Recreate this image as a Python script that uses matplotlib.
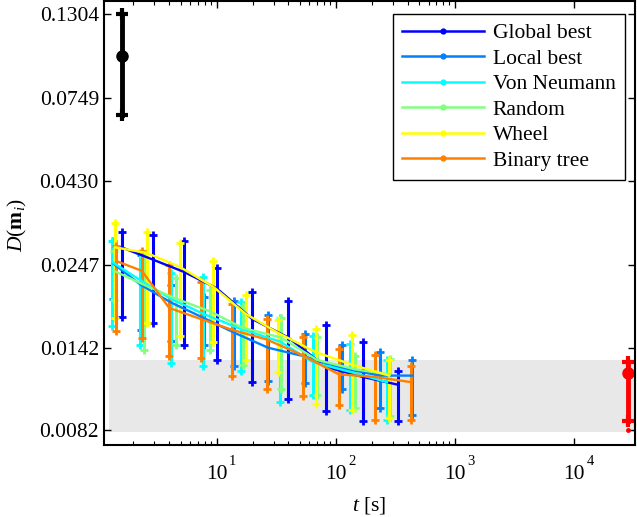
import numpy as np
import matplotlib
matplotlib.use('Agg')
import matplotlib.pyplot as plt
from matplotlib.ticker import FixedLocator, NullFormatter
from matplotlib.lines import Line2D

plt.rcParams['font.family'] = ['Liberation Serif', 'DejaVu Serif']
plt.rcParams['mathtext.fontset'] = 'custom'
plt.rcParams['mathtext.rm'] = 'Liberation Serif'
plt.rcParams['mathtext.it'] = 'Liberation Serif:italic'
plt.rcParams['mathtext.bf'] = 'Liberation Serif:bold'

# Datos
nombres = ['Global best', 'Local best', 'Von Neumann', 'Random', 'Wheel', 'Binary tree']
colores = ['#0000ff', '#0080ff', '#00ffff', '#80ff80', '#ffff00', '#ff8000']

t_global = [1.59, 2.94, 5.35, 10.0, 19.9, 39.9, 82.3, 168, 335]
m_global = [0.0277, 0.0255, 0.0235, 0.0211, 0.0172, 0.0152, 0.0125, 0.0117, 0.0111]
hi_global = [0.0306, 0.0301, 0.0288, 0.0242, 0.0206, 0.0194, 0.0165, 0.0148, 0.0122]
lo_global = [0.0174, 0.0168, 0.0145, 0.0131, 0.0113, 0.0101, 0.0093, 0.0087, 0.0087]

t_local = [1.35, 2.30, 4.13, 7.82, 14.05, 27.1, 55.1, 113, 235, 439]
m_local = [0.0249, 0.0216, 0.0192, 0.0173, 0.0157, 0.0142, 0.0134, 0.0124, 0.0118, 0.0118]
hi_local = [0.0288, 0.0263, 0.0216, 0.0199, 0.0194, 0.0177, 0.0156, 0.0145, 0.0138, 0.0131]
lo_local = [0.0196, 0.0160, 0.0149, 0.0145, 0.0126, 0.0114, 0.0112, 0.0108, 0.0095, 0.0091]

t_vn = [1.33, 2.27, 4.11, 7.72, 15.9, 34.0, 64.4, 131.6, 269]
m_vn = [0.0251, 0.0223, 0.0197, 0.0178, 0.0161, 0.0148, 0.0129, 0.0121, 0.0113]
hi_vn = [0.0288, 0.0266, 0.0234, 0.0228, 0.0193, 0.0173, 0.0154, 0.0146, 0.0131]
lo_vn = [0.0164, 0.0145, 0.0128, 0.0126, 0.0122, 0.0099, 0.0104, 0.0094, 0.0088]

t_random = [1.37, 2.45, 4.53, 8.78, 16.6, 34.7, 69.5, 145, 285]
m_random = [0.0237, 0.0216, 0.0197, 0.0181, 0.0162, 0.0152, 0.0131, 0.0123, 0.0119]
hi_random = [0.0270, 0.0260, 0.0226, 0.0209, 0.0187, 0.0173, 0.0153, 0.0134, 0.0132]
lo_random = [0.0195, 0.0140, 0.0145, 0.0140, 0.0127, 0.0108, 0.0104, 0.0095, 0.0090]

t_wheel = [1.40, 2.58, 4.92, 9.37, 17.5, 32.5, 67.8, 136, 280]
m_wheel = [0.0277, 0.0267, 0.0243, 0.0213, 0.0178, 0.0157, 0.0138, 0.0127, 0.0118]
hi_wheel = [0.0325, 0.0306, 0.0285, 0.0253, 0.0202, 0.0171, 0.0161, 0.0155, 0.0131]
lo_wheel = [0.0173, 0.0168, 0.0154, 0.0148, 0.0131, 0.0121, 0.0098, 0.0094, 0.0089]

t_tree = [1.43, 2.35, 4.00, 7.34, 13.5, 26.4, 52.7, 106, 213, 426]
m_tree = [0.0253, 0.0237, 0.0185, 0.0172, 0.0160, 0.0150, 0.0135, 0.0119, 0.0117, 0.0113]
hi_tree = [0.0280, 0.0270, 0.0246, 0.0220, 0.0190, 0.0172, 0.0153, 0.0141, 0.0135, 0.0126]
lo_tree = [0.0159, 0.0152, 0.0134, 0.0133, 0.0118, 0.0108, 0.0103, 0.0097, 0.0088, 0.0088]

series = [
    (t_global, m_global, hi_global, lo_global),
    (t_local, m_local, hi_local, lo_local),
    (t_vn, m_vn, hi_vn, lo_vn),
    (t_random, m_random, hi_random, lo_random),
    (t_wheel, m_wheel, hi_wheel, lo_wheel),
    (t_tree, m_tree, hi_tree, lo_tree),
]

# referencias: valor inicial (negro) y valor final (rojo)
t_ini, m_ini, hi_ini, lo_ini = 1.62, 0.0992, 0.1304, 0.0670
t_fin, m_fin, hi_fin, lo_fin, min_fin = 28250, 0.0120, 0.0129, 0.0087, 0.0082

banda_t = [1.25, 32500]
banda_y = [0.0081, 0.0131]

yticks = [0.0082, 0.0142, 0.0247, 0.0430, 0.0749, 0.1304]
xticks = [10, 100, 1000, 10000]
xexp = ['1', '2', '3', '4']

fig = plt.figure(figsize=(6.37, 5.17), dpi=100)
ax = fig.add_axes([0.163, 0.139, 0.834, 0.859])

ax.fill_between(banda_t, banda_y[0], banda_y[1], color='#e8e8e8', lw=0, zorder=0)

# barras de error de cada topologia
for (t, m, hi, lo), c in zip(series, colores):
    for ti, h, l in zip(t, hi, lo):
        ax.plot([ti, ti], [l, h], color=c, lw=2.2, zorder=2)
        ax.plot([ti, ti], [l, h], ls='none', marker='+', ms=6, mew=2, color=c, zorder=2)
# lineas de medias
for (t, m, hi, lo), c in zip(series, colores):
    ax.plot(t, m, color=c, lw=1.7, zorder=3)

ax.plot([t_ini, t_ini], [lo_ini, hi_ini], color='k', lw=3.5)
ax.plot([t_ini, t_ini], [lo_ini, hi_ini], ls='none', marker='+', ms=8, mew=3, color='k')
ax.plot([t_ini], [m_ini], marker='o', ms=8, color='k')

ax.plot([t_fin, t_fin], [lo_fin, hi_fin], color='r', lw=3.5)
ax.plot([t_fin, t_fin], [lo_fin, hi_fin], ls='none', marker='+', ms=8, mew=3, color='r')
ax.plot([t_fin], [m_fin], marker='o', ms=8, color='r')
ax.plot([t_fin], [min_fin], marker='.', ms=5, color='r')

ax.set_xscale('log')
ax.set_yscale('log')
ax.set_xlim(1.13, 32500)
ax.set_ylim(0.00743, 0.1426)

ax.set_yticks(yticks)
ax.set_yticklabels([f'{v:.4f}' for v in yticks])
ax.yaxis.set_minor_locator(FixedLocator([]))
ax.set_xticks(xticks)
ax.set_xticklabels(['10'] * len(xticks))
menores = [k * 10 ** e for e in range(0, 3) for k in range(2, 10)]
ax.xaxis.set_minor_locator(FixedLocator(menores))
ax.xaxis.set_minor_formatter(NullFormatter())

# exponentes al estilo matlab
for xt, ex in zip(xticks, xexp):
    ax.annotate(ex, xy=(xt, 0), xycoords=('data', 'axes fraction'),
                xytext=(11.5, -12), textcoords='offset points',
                ha='center', va='center', fontsize=10.5)

ax.tick_params(which='both', direction='in', top=True, right=True, labelsize=15.5)
ax.tick_params(which='major', length=5, width=1)
ax.tick_params(which='minor', length=3, width=0.8)
ax.tick_params(axis='x', pad=14)
for s in ax.spines.values():
    s.set_linewidth(1.5)

ax.set_xlabel('$t$ [s]', fontsize=15.5, labelpad=8)
ax.set_ylabel(r'$D(\mathbf{m}_i)$', fontsize=15.5)
ax.yaxis.set_label_coords(-0.140, 0.495)

leg = ax.legend(handles=[Line2D([], [], color=c, lw=1.8, marker='.', ms=7) for c in colores],
                labels=nombres, loc='upper right', fontsize=15.5, fancybox=False,
                edgecolor='k', framealpha=1, handlelength=3.8, handletextpad=0.4,
                borderpad=0.44, labelspacing=0.25, borderaxespad=0,
                bbox_to_anchor=(0.981, 0.971))
leg.get_frame().set_linewidth(1.0)

fig.savefig('out.png', dpi=100)
